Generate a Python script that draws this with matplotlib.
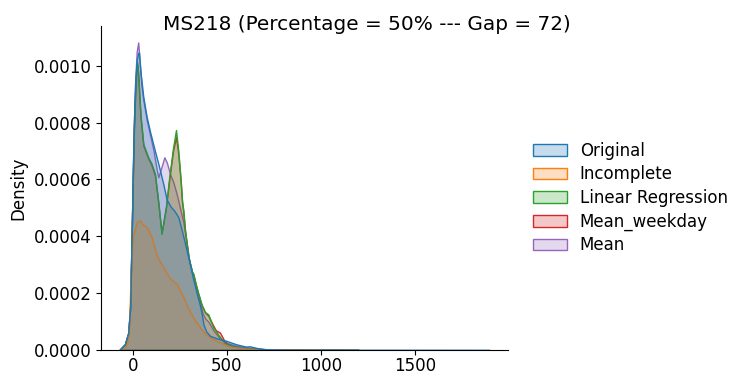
import matplotlib
matplotlib.use('Agg')
from matplotlib import pyplot as plt
from matplotlib.patches import Patch
from matplotlib.ticker import FormatStrFormatter

# density curves of the five series (value, density)
original_x = [-72, -43, -25, -15, -7, 0, 5, 12, 20, 28, 32, 40, 55, 73, 90, 117, 135, 161, 179, 200,
              220, 241, 260, 277, 303, 320, 339, 355, 365, 375, 390, 410, 450, 498, 550, 600, 622,
              640, 680, 711, 800, 900, 1000, 1200, 1500, 1897]
original_y = [0, 0.00002, 0.00006, 0.00015, 0.0004, 0.00065, 0.0008, 0.00094, 0.00102, 0.001045,
              0.001047, 0.00098, 0.00089, 0.00082, 0.00077, 0.0007, 0.000655, 0.000585, 0.00053,
              0.000505, 0.00049, 0.000468, 0.00042, 0.000374, 0.000304, 0.00025, 0.0002, 0.00016,
              0.00013, 0.00009, 0.000065, 0.00005, 0.00004, 0.000032, 0.00002, 0.000012, 0.000013,
              0.00001, 0.000004, 0.000002, 0.000001, 0.0000005, 0.0000003, 0.0000002, 0.0000001, 0]

incomplete_x = [-60, -40, -30, -20, -12, 0, 20, 37, 55, 73, 99, 126, 161, 197, 232, 250, 268, 285,
                303, 330, 356, 380, 410, 450, 516, 600, 700, 800, 1000]
incomplete_y = [0, 0.00001, 0.00003, 0.00008, 0.00028, 0.0004, 0.00045, 0.000456, 0.00044,
                0.000433, 0.000398, 0.000333, 0.000292, 0.000251, 0.000234, 0.00021, 0.000187,
                0.00016, 0.000135, 0.000105, 0.00008, 0.00006, 0.000045, 0.00003, 0.000012,
                0.000005, 0.000002, 0.000001, 0]

linreg_x = [-72, -43, -25, -15, -7, 0, 5, 12, 18, 23, 30, 40, 55, 81, 99, 117, 135, 152, 175, 193,
            213, 229, 241, 254, 261, 268, 277, 295, 315, 321, 335, 347, 365, 383, 401, 415, 427,
            436, 454, 470, 489, 516, 560, 620, 700, 800, 1000, 1200]
linreg_y = [0, 0.00002, 0.00006, 0.00015, 0.0004, 0.00063, 0.00078, 0.00092, 0.00099, 0.001012,
            0.00095, 0.00083, 0.000725, 0.000678, 0.000655, 0.00062, 0.00052, 0.000409, 0.0005,
            0.000608, 0.00071, 0.000774, 0.000702, 0.000597, 0.000526, 0.000491, 0.000421,
            0.000327, 0.000275, 0.000269, 0.00023, 0.0002, 0.00016, 0.000134, 0.000125, 0.0001,
            0.00008, 0.000072, 0.000053, 0.00004, 0.000023, 0.000017, 0.00001, 0.000006, 0.000003,
            0.000001, 0.0000003, 0]

weekday_x = [-72, -43, -25, -15, -7, 0, 5, 12, 18, 25, 30, 40, 55, 81, 99, 117, 135, 152, 175, 193,
             213, 229, 241, 254, 261, 268, 277, 295, 315, 321, 335, 347, 365, 383, 401, 420, 440,
             463, 484, 500, 530, 560, 620, 700, 800, 1000, 1200]
weekday_y = [0, 0.00002, 0.00006, 0.00015, 0.0004, 0.00062, 0.00077, 0.0009, 0.00098, 0.001,
             0.00094, 0.00082, 0.00072, 0.000675, 0.00065, 0.000615, 0.000515, 0.000412, 0.0005,
             0.0006, 0.0007, 0.00075, 0.00069, 0.00059, 0.00052, 0.000485, 0.000418, 0.000325,
             0.000272, 0.000265, 0.000228, 0.000198, 0.000158, 0.000132, 0.00012, 0.000095,
             0.00007, 0.000061, 0.000035, 0.000022, 0.000014, 0.00001, 0.000006, 0.000003, 0.000001,
             0.0000003, 0]

mean_x = [-72, -43, -25, -15, -7, 0, 5, 12, 20, 28, 35, 45, 55, 73, 90, 110, 125, 135, 150, 167,
          180, 197, 215, 232, 250, 268, 285, 303, 320, 339, 355, 370, 385, 401, 427, 463, 500, 550,
          620, 700, 800, 1000, 1200]
mean_y = [0, 0.00002, 0.00006, 0.00015, 0.0004, 0.00065, 0.0008, 0.00095, 0.00105, 0.001082,
          0.00102, 0.00093, 0.00088, 0.00081, 0.00076, 0.0007, 0.00064, 0.000608, 0.00064,
          0.000678, 0.00066, 0.00062, 0.00059, 0.00055, 0.0005, 0.00045, 0.00038, 0.0003, 0.00026,
          0.00021, 0.00017, 0.00013, 0.00011, 0.0001, 0.00007, 0.00004, 0.000025, 0.000015,
          0.000008, 0.000003, 0.000001, 0.0000003, 0]

labels = ['Original', 'Incomplete', 'Linear Regression', 'Mean_weekday', 'Mean']
colors = ['#1f77b4', '#ff7f0e', '#2ca02c', '#d62728', '#9467bd']
curves = [(original_x, original_y), (incomplete_x, incomplete_y), (linreg_x, linreg_y),
          (weekday_x, weekday_y), (mean_x, mean_y)]

plt.rcParams['font.family'] = ['DejaVu Sans']

fig = plt.figure(figsize=(7.34, 3.74), dpi=100)
ax = fig.add_axes([0.1376, 0.0642, 0.5545, 0.8663])

# last series first so the first one ends up on top
for (xs, ys), color in reversed(list(zip(curves, colors))):
    ax.fill_between(xs, 0, ys, facecolor=(color, 0.25), edgecolor=color, linewidth=1)

ax.set_xlim(-170, 1995)
ax.set_ylim(0, 0.00114)
ax.set_xticks([0, 500, 1000, 1500])
ax.set_yticks([0, 0.0002, 0.0004, 0.0006, 0.0008, 0.001])
ax.yaxis.set_major_formatter(FormatStrFormatter('%.4f'))
ax.tick_params(labelsize=12)
ax.tick_params(axis='x', pad=1.5)
ax.set_ylabel('Density', fontsize=12)
ax.spines['top'].set_visible(False)
ax.spines['right'].set_visible(False)

fig.suptitle('MS218 (Percentage = 50% --- Gap = 72)', x=0.5, y=1 - 30.5 / 374,
             va='baseline', fontsize=14.4)

handles = [Patch(facecolor=(c, 0.25), edgecolor=c, linewidth=1) for c in colors]
fig.legend(handles, labels, loc='center left', bbox_to_anchor=(0.706, 0.4706),
           frameon=False, fontsize=12, labelspacing=0.34)

fig.savefig('out.png', dpi=100)
